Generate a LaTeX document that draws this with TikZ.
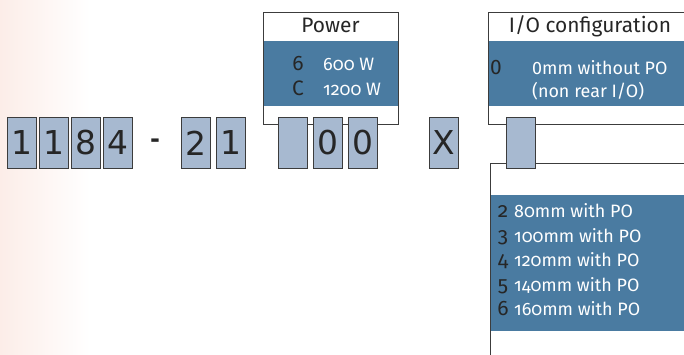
\documentclass[tikz,border=0pt]{standalone}
\usepackage{fontspec}
\setmainfont{Fira Sans}[Numbers=OldStyle]
\newfontfamily\digitfont{DejaVu Sans}
\usetikzlibrary{positioning}
\definecolor{cellfill}{RGB}{167,185,208}
\definecolor{bandblue}{RGB}{74,123,161}
\definecolor{edgegray}{RGB}{60,60,60}
\definecolor{blush}{RGB}{252,237,232}

\begin{document}
\begin{tikzpicture}[
  x=1bp, y=-1bp,
  cell/.style={draw=edgegray, fill=cellfill, line width=1bp, minimum width=29bp,
    minimum height=51bp, inner sep=0pt, text=black!85,
    font=\digitfont\fontsize{33}{33}\selectfont},
  panel/.style={draw=edgegray, fill=white, line width=0.9bp, anchor=north west,
    inner sep=0pt},
  band/.style={fill=bandblue, anchor=north west, inner sep=0pt},
  hdr/.style={font=\fontsize{21}{21}\selectfont, text=black!85, anchor=base},
  code/.style={font=\fontsize{21}{21}\selectfont, text=black!85, anchor=base},
  desc/.style={font=\fontsize{18}{18}\selectfont, text=white, anchor=base west,
    inner sep=0pt}
]
\useasboundingbox (0,0) rectangle (684,354);
\clip (0,0) rectangle (684,354);

% ── background tint ──────────────────────────────────────────────────────
\shade[left color=blush, right color=white] (0,0) rectangle (90,354);

% ── Power panel ──────────────────────────────────────────────────────────
\node[panel, minimum width=135bp, minimum height=112bp] (pwr) at (263,12) {};
\node[band, minimum width=134bp, minimum height=65bp] (pwrband) at (263.5,41) {};
\node[hdr] (pwrhdr) at (330.5,32.5) {Power};
\node[code] (pwr6) at (298,70.5) {6};
\node[desc] (pwr6d) at (323,70.5) {600 W};
\node[code] (pwrC) at (298,95) {C};
\node[desc] (pwrCd) at (323,95) {1200 W};

% ── I/O configuration panels ─────────────────────────────────────────────
\node[panel, minimum width=210bp, minimum height=112bp] (io) at (488,12) {};
\node[band, minimum width=210bp, minimum height=65bp] (ioband) at (488.5,41) {};
\node[hdr] (iohdr) at (590,32.5) {I/O configuration};
\node[code] (io0) at (496,74) {\addfontfeature{Numbers=Lining}0};
\node[desc] (io0d) at (532,74) {\addfontfeature{Numbers=Lining}0mm without PO};
\node[desc] (io0e) at (532,97) {(non rear I/O)};

\node[panel, minimum width=210bp, minimum height=210bp] (iolow) at (490,163) {};
\node[band, minimum width=210bp, minimum height=136bp] (iolowband) at (490.5,195) {};
\node[code] (io2) at (503,217.5) {2};
\node[desc] (io2d) at (514,217.5) {80mm with PO};
\node[code] (io3) at (503,242) {3};
\node[desc] (io3d) at (514,242) {100mm with PO};
\node[code] (io4) at (503,266.5) {4};
\node[desc] (io4d) at (514,266.5) {120mm with PO};
\node[code] (io5) at (503,291) {5};
\node[desc] (io5d) at (514,291) {140mm with PO};
\node[code] (io6) at (503,315.5) {6};
\node[desc] (io6d) at (514,315.5) {160mm with PO};

% ── part number cells ────────────────────────────────────────────────────
\node[cell] (c1) at (22,143) {1};
\node[cell, right=2bp of c1] (c2) {1};
\node[cell, right=2bp of c2] (c3) {8};
\node[cell, right=2bp of c3] (c4) {4};
\node[font=\digitfont\bfseries\fontsize{24}{24}\selectfont, text=black!85]
  (dash) at (155,143) {-};
\node[cell] (s1) at (196,143) {2};
\node[cell, right=4.5bp of s1] (s2) {1};
\node[cell] (p1) at (292.5,143) {};
\node[cell, right=5bp of p1] (p2) {0};
\node[cell, right=5bp of p2] (p3) {0};
\node[cell] (cx) at (444,143) {X};
\node[cell] (cio) at (521,143) {};

\end{tikzpicture}
\end{document}
